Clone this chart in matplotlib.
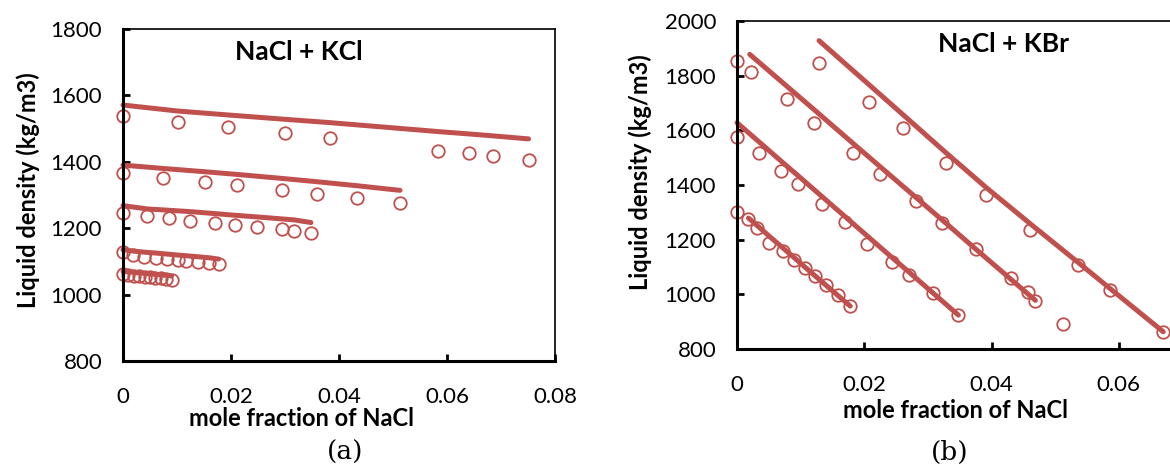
import numpy as np
import matplotlib.pyplot as plt

# ---- panel (a): NaCl + KCl ----
a_x1 = [0, 0.0101, 0.0195, 0.0300, 0.0383, 0.0584, 0.0640, 0.0686, 0.0751]
a_exp1 = [1539, 1521, 1506, 1486, 1471, 1433, 1426, 1417, 1405]
a_mod1 = [1571, 1553, 1541, 1528, 1518, 1491, 1484, 1478, 1469]

a_x2 = [0, 0.0074, 0.0152, 0.0211, 0.0294, 0.0359, 0.0433, 0.0513]
a_exp2 = [1367, 1352, 1338, 1330, 1315, 1303, 1290, 1277]
a_mod2 = [1390, 1380, 1370, 1362, 1350, 1340, 1328, 1314]

a_x3 = [0, 0.0045, 0.0085, 0.0124, 0.0170, 0.0207, 0.0248, 0.0294, 0.0317, 0.0348]
a_exp3 = [1247, 1237, 1230, 1223, 1215, 1210, 1205, 1197, 1192, 1187]
a_mod3 = [1268, 1258, 1254, 1250, 1244, 1239, 1234, 1228, 1225, 1217]

a_x4 = [0, 0.0019, 0.0038, 0.0062, 0.0082, 0.0102, 0.0117, 0.0139, 0.0159, 0.0177]
a_exp4 = [1127, 1119, 1114, 1109, 1107, 1104, 1102, 1099, 1094, 1092]
a_mod4 = [1135, 1131, 1128, 1125, 1122, 1119, 1117, 1114, 1111, 1107]

a_x5 = [0, 0.001, 0.002, 0.003, 0.004, 0.005, 0.006, 0.007, 0.008, 0.009]
a_exp5 = [1062, 1058, 1057, 1055, 1054, 1052, 1051, 1049, 1047, 1045]
a_mod5 = [1070, 1068, 1067, 1065, 1064, 1062, 1061, 1059, 1058, 1056]

# ---- panel (b): NaCl + KBr ----
b_x1 = [0, 0.0018, 0.0032, 0.0051, 0.0072, 0.0090, 0.0107, 0.0123, 0.0140, 0.0159, 0.0178]
b_exp1 = [1300, 1274, 1241, 1187, 1158, 1126, 1095, 1067, 1034, 997, 957]
b_mx1 = [0.0018, 0.0032, 0.0051, 0.0072, 0.0090, 0.0107, 0.0123, 0.0140, 0.0159, 0.0178]
b_mod1 = [1279, 1251, 1212, 1170, 1134, 1099, 1067, 1033, 995, 957]

b_x2 = [0, 0.0035, 0.0069, 0.0096, 0.0133, 0.0170, 0.0204, 0.0243, 0.0271, 0.0308, 0.0348]
b_exp2 = [1577, 1518, 1451, 1404, 1330, 1266, 1184, 1119, 1071, 1004, 924]
b_mx2 = b_x2
b_mod2 = [1628, 1557, 1488, 1434, 1359, 1284, 1215, 1136, 1080, 1005, 924]

b_x3 = [0, 0.0022, 0.0078, 0.0121, 0.0183, 0.0225, 0.0282, 0.0322, 0.0375, 0.0430, 0.0458, 0.0469]
b_exp3 = [1855, 1815, 1714, 1628, 1516, 1440, 1343, 1262, 1165, 1059, 1010, 977]
b_mx3 = [0.0020, 0.0078, 0.0121, 0.0183, 0.0225, 0.0282, 0.0322, 0.0375, 0.0430, 0.0458, 0.0469]
b_mod3 = [1878, 1762, 1676, 1551, 1467, 1353, 1273, 1166, 1056, 1000, 978]

b_x4 = [0.0129, 0.0208, 0.0261, 0.0328, 0.0392, 0.0461, 0.0513, 0.0536, 0.0587, 0.0670]
b_exp4 = [1845, 1705, 1607, 1479, 1363, 1235, 891, 1107, 1016, 863]
b_mx4 = [0.0129, 0.0208, 0.0261, 0.0328, 0.0392, 0.0461, 0.0536, 0.0587, 0.0670]
b_mod4 = [1928, 1766, 1657, 1519, 1390, 1258, 1117, 1020, 863]

red = '#C0504D'
plt.rcParams['font.family'] = ['Lato', 'DejaVu Sans']

W, H = 1170, 468
fig = plt.figure(figsize=(W / 100, H / 100), dpi=100)

ax_a = fig.add_axes([123 / W, 1 - 361 / H, (555 - 123) / W, (361 - 29) / H])
ax_b = fig.add_axes([737 / W, 1 - 349 / H, (1246 - 737) / W, (349 - 21) / H])


def draw(ax, exps, mods):
    for x, y in exps:
        ax.plot(x, y, 'o', ms=9, mfc='none', mec=red, mew=1.3, clip_on=False)
    for x, y in mods:
        ax.plot(x, y, '-', color=red, lw=3.6, solid_capstyle='round', clip_on=False)


draw(ax_a,
     [(a_x1, a_exp1), (a_x2, a_exp2), (a_x3, a_exp3), (a_x4, a_exp4), (a_x5, a_exp5)],
     [(a_x1, a_mod1), (a_x2, a_mod2), (a_x3, a_mod3), (a_x4, a_mod4), (a_x5, a_mod5)])
draw(ax_b,
     [(b_x1, b_exp1), (b_x2, b_exp2), (b_x3, b_exp3), (b_x4, b_exp4)],
     [(b_mx1, b_mod1), (b_mx2, b_mod2), (b_mx3, b_mod3), (b_mx4, b_mod4)])

xt = [0, 0.02, 0.04, 0.06, 0.08]
for ax, ymax, xtl in [(ax_a, 1800, ['0', '0.02', '0.04', '0.06', '0.08']),
                      (ax_b, 2000, ['0', '0.02', '0.04', '0.06', ''])]:
    ax.set_xlim(0, 0.08)
    ax.set_ylim(800, ymax)
    ax.set_xticks(xt)
    ax.set_xticklabels(xtl)
    ax.set_yticks(np.arange(800, ymax + 1, 200))
    ax.tick_params(direction='in', length=5, width=2, labelsize=16)
    ax.tick_params(axis='y', pad=15)
    ax.tick_params(axis='x', pad=19)
    for s in ['left', 'bottom']:
        ax.spines[s].set_linewidth(2.2)
    for s in ['top', 'right']:
        ax.spines[s].set_linewidth(1.2)

ax_a.set_xlabel('mole fraction of NaCl', fontsize=17, fontweight='bold', va='center')
ax_a.xaxis.set_label_coords(0.413, -0.172)
ax_a.set_ylabel('Liquid density (kg/m3)', fontsize=17, fontweight='bold', va='center')
ax_a.yaxis.set_label_coords(-0.22, 0.515)
ax_a.text(0.406, 0.931, 'NaCl + KCl', transform=ax_a.transAxes, ha='center', va='center',
          fontsize=19, fontweight='bold')

ax_b.set_xlabel('mole fraction of NaCl', fontsize=17, fontweight='bold', va='center')
ax_b.xaxis.set_label_coords(0.429, -0.189)
ax_b.set_ylabel('Liquid density (kg/m3)', fontsize=17, fontweight='bold', va='center')
ax_b.yaxis.set_label_coords(-0.19, 0.54)
ax_b.text(0.523, 0.93, 'NaCl + KBr', transform=ax_b.transAxes, ha='center', va='center',
          fontsize=19, fontweight='bold')

fig.text(345 / W, 1 - 452 / H, '(a)', ha='center', va='center', fontsize=19, family='DejaVu Serif')
fig.text(950 / W, 1 - 452 / H, '(b)', ha='center', va='center', fontsize=19, family='DejaVu Serif')

fig.savefig('out.png', dpi=100)
